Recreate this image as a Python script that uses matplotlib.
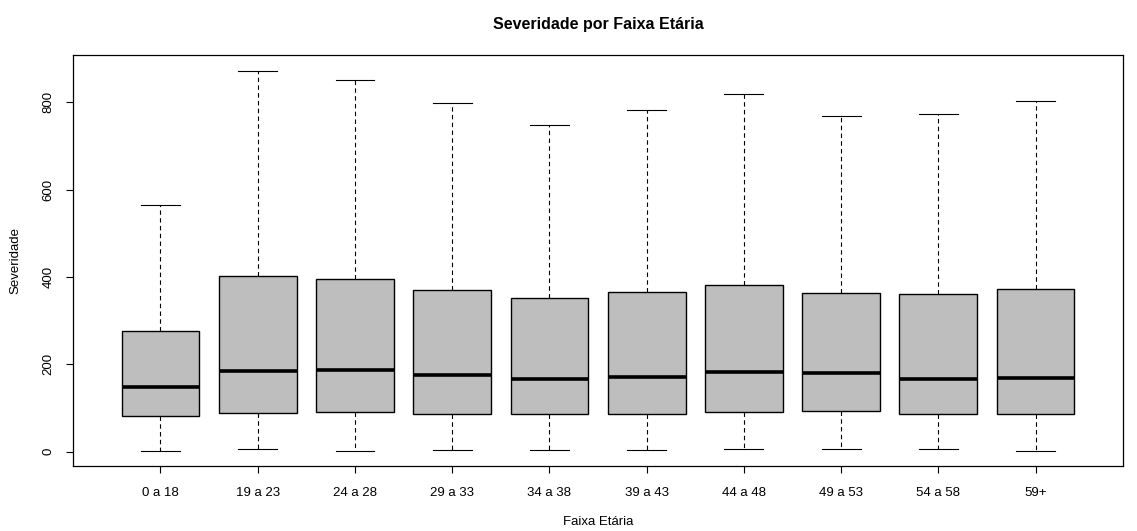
import matplotlib
matplotlib.use("Agg")
from matplotlib import pyplot as plt

plt.rcParams['font.family'] = ['Liberation Sans', 'DejaVu Sans']

faixas = ["0 a 18", "19 a 23", "24 a 28", "29 a 33", "34 a 38",
          "39 a 43", "44 a 48", "49 a 53", "54 a 58", "59+"]
whislo = [2, 5, 2, 3, 3, 3, 5, 5, 6, 2]
q1 = [82, 88, 90, 86, 86, 86, 91, 92, 86, 86]
med = [147, 184, 187, 175, 167, 171, 182, 179, 167, 169]
q3 = [275, 401, 395, 371, 351, 365, 382, 362, 360, 373]
whishi = [564, 872, 850, 797, 747, 781, 819, 768, 774, 802]

stats = []
for i in range(len(faixas)):
    stats.append({"whislo": whislo[i], "q1": q1[i], "med": med[i],
                  "q3": q3[i], "whishi": whishi[i], "fliers": [],
                  "label": faixas[i]})

fig = plt.figure(figsize=(11.37, 5.31), dpi=100)
ax = fig.add_axes([0.0642, 0.1224, 0.9235, 0.774])

pos = list(range(1, len(faixas) + 1))
ax.bxp(stats, positions=pos, widths=0.8, patch_artist=True,
       showfliers=False,
       boxprops=dict(facecolor="#bebebe", edgecolor="black", linewidth=1.0),
       medianprops=dict(color="black", linewidth=2.6),
       whiskerprops=dict(color="black", linewidth=0.8, linestyle=(0, (4, 3))),
       capprops=dict(color="black", linewidth=0.8),
       capwidths=0.4)

# R-style axis extents (4% padding)
ax.set_xlim(0.1, 10.9)
ax.set_ylim(-33, 908)
ax.set_yticks([0, 200, 400, 600, 800])
ax.set_yticklabels(["0", "200", "400", "600", "800"], rotation=90, va="center")
ax.set_xticks(pos)
ax.set_xticklabels(faixas)
ax.tick_params(axis="both", direction="out", length=5, width=0.8,
               labelsize=9.5)
ax.tick_params(axis="x", pad=10)
ax.tick_params(axis="y", pad=8.5)
for s in ax.spines.values():
    s.set_linewidth(0.9)

ax.set_title("Severidade por Faixa Etária", fontsize=11.5, fontweight="bold", pad=19)
ax.set_xlabel("Faixa Etária", fontsize=9.5, labelpad=12)
ax.set_ylabel("Severidade", fontsize=9.5, labelpad=15)

plt.savefig("out.png", dpi=100)
